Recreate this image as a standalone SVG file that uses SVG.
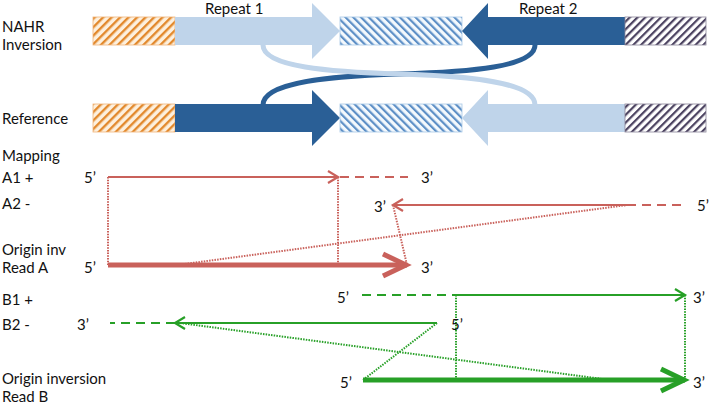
<svg xmlns="http://www.w3.org/2000/svg" width="709" height="405" viewBox="0 0 709 405">
<style>
text{font-family:Lato,"Open Sans","Liberation Sans",sans-serif;font-size:15px;fill:#111}
.r{stroke:#c9615b;fill:none}
.g{stroke:#27a027;fill:none}
.thin{stroke-width:2.2}
.thick{stroke-width:5}
.dash{stroke-width:2.2;stroke-dasharray:9 6}
.dot{stroke-width:2;stroke-dasharray:1.5 1.2}
.lb{fill:#bfd4ea}
.db{fill:#2a5f96}
</style>
<defs>
<pattern id="hOr" width="6" height="6" patternUnits="userSpaceOnUse" patternTransform="rotate(45)">
<rect width="6" height="6" fill="#fdf0de"/><rect width="2.4" height="6" fill="#e2892d"/>
</pattern>
<pattern id="hBl" width="5.5" height="5.5" patternUnits="userSpaceOnUse" patternTransform="rotate(-45)">
<rect width="5.5" height="5.5" fill="#f4f9fd"/><rect width="2.2" height="5.5" fill="#5d8fc6"/>
</pattern>
<pattern id="hPu" width="5.5" height="5.5" patternUnits="userSpaceOnUse" patternTransform="rotate(45)">
<rect width="5.5" height="5.5" fill="#ffffff"/><rect width="2.2" height="5.5" fill="#4b4260"/>
</pattern>
<marker id="mRt" markerUnits="userSpaceOnUse" markerWidth="20" markerHeight="20" refX="0" refY="0" orient="auto" overflow="visible">
<path d="M-10,-6 L0,0 L-10,6" fill="none" stroke="#c9615b" stroke-width="2.2"/>
</marker>
<marker id="mRT" markerUnits="userSpaceOnUse" markerWidth="40" markerHeight="40" refX="0" refY="0" orient="auto" overflow="visible">
<path d="M-24,-11 L-1,0 L-24,11" fill="none" stroke="#c9615b" stroke-width="5"/>
</marker>
<marker id="mGt" markerUnits="userSpaceOnUse" markerWidth="20" markerHeight="20" refX="0" refY="0" orient="auto" overflow="visible">
<path d="M-10,-6 L0,0 L-10,6" fill="none" stroke="#27a027" stroke-width="2.2"/>
</marker>
<marker id="mGT" markerUnits="userSpaceOnUse" markerWidth="40" markerHeight="40" refX="0" refY="0" orient="auto" overflow="visible">
<path d="M-24,-11 L-1,0 L-24,11" fill="none" stroke="#27a027" stroke-width="5"/>
</marker>
</defs>
<rect width="709" height="405" fill="#fff"/>

<g id="labels">
<text x="205" y="14">Repeat 1</text>
<text x="519" y="14">Repeat 2</text>
<text x="2" y="32">NAHR</text>
<text x="2" y="50">Inversion</text>
<text x="2" y="124">Reference</text>
<text x="2" y="161">Mapping</text>
<text x="2" y="183">A1 +</text>
<text x="2" y="209">A2 -</text>
<text x="2" y="255">Origin inv</text>
<text x="2" y="273">Read A</text>
<text x="2" y="305">B1 +</text>
<text x="2" y="330">B2 -</text>
<text x="2" y="384">Origin inversion</text>
<text x="2" y="402">Read B</text>
</g>

<g id="connectors">
<path d="M263,105 C263,82 330,76 400,74 C470,72 535,67 535,45" fill="none" stroke="#2a5f96" stroke-width="5"/>
<path d="M263,45 C263,67 330,72 400,74 C470,76 535,82 535,105" fill="none" stroke="#bfd4ea" stroke-width="5"/>
</g>

<g id="nahr-row">
<rect x="93" y="17" width="82" height="28" fill="url(#hOr)" stroke="#f0b57a" stroke-width="0.8"/>
<polygon class="lb" points="175,17 312,17 312,3 340,31 312,59 312,45 175,45"/>
<rect x="340" y="17" width="122" height="28" fill="url(#hBl)" stroke="#a9c8e6" stroke-width="0.8"/>
<polygon class="db" points="625,17 488,17 488,3 462,31 488,59 488,45 625,45"/>
<rect x="625" y="17" width="81" height="28" fill="url(#hPu)" stroke="#8a8498" stroke-width="0.8"/>
</g>

<g id="reference-row">
<rect x="93" y="104" width="82" height="28" fill="url(#hOr)" stroke="#f0b57a" stroke-width="0.8"/>
<polygon class="db" points="175,104 312,104 312,90 340,118 312,146 312,132 175,132"/>
<rect x="340" y="104" width="122" height="28" fill="url(#hBl)" stroke="#a9c8e6" stroke-width="0.8"/>
<polygon class="lb" points="625,104 488,104 488,90 462,118 488,146 488,132 625,132"/>
<rect x="625" y="104" width="81" height="28" fill="url(#hPu)" stroke="#8a8498" stroke-width="0.8"/>
</g>

<g id="read-a">
<path class="r dot" d="M108,177 V265"/>
<path class="r dot" d="M338,177 V265"/>
<path class="r dot" d="M393,205 L407,265"/>
<path class="r dot" d="M177,265 L627,205"/>
<path class="r thin" d="M108,177 H338" marker-end="url(#mRt)"/>
<path class="r dash" d="M340,177 H408"/>
<path class="r thin" d="M627,205 H393" marker-end="url(#mRt)"/>
<path class="r dash" d="M627,205 H686"/>
<path class="r thick" d="M108,265 H407" marker-end="url(#mRT)"/>
<text x="84" y="183">5’</text>
<text x="421" y="183">3’</text>
<text x="374" y="212">3’</text>
<text x="697" y="211">5’</text>
<text x="84" y="273">5’</text>
<text x="421" y="273">3’</text>
</g>

<g id="read-b">
<path class="g dot" d="M456,295 V380"/>
<path class="g dot" d="M685,295 V380"/>
<path class="g dot" d="M437,323 L363,380"/>
<path class="g dot" d="M180,323 L610,380"/>
<path class="g dash" d="M362,295 H456"/>
<path class="g thin" d="M456,295 H685" marker-end="url(#mGt)"/>
<path class="g thin" d="M437,323 H175" marker-end="url(#mGt)"/>
<path class="g dash" d="M175,323 H110"/>
<path class="g thick" d="M363,380 H685" marker-end="url(#mGT)"/>
<text x="337" y="303">5’</text>
<text x="693" y="303">3’</text>
<text x="77" y="330">3’</text>
<text x="451" y="330">5’</text>
<text x="340" y="388">5’</text>
<text x="693" y="388">3’</text>
</g>
</svg>
